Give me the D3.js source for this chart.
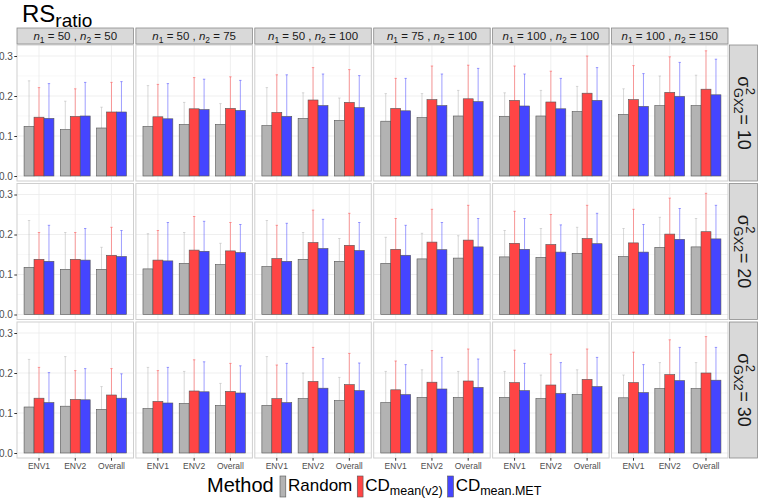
<!DOCTYPE html>
<meta charset="utf-8">
<script src="https://d3js.org/d3.v7.min.js"></script>
<style>
  body { margin: 0; background: #fff; }
  text { font-family: "Liberation Sans", Arial, sans-serif; }
</style>
<div id="my_dataviz"></div>
<script>

// facet labels
const n1 = [50, 50, 50, 75, 100, 100];
const n2 = [50, 75, 100, 100, 100, 150];
const gxVar = [10, 20, 30];
const envs = ["ENV1", "ENV2", "Overall"];
const methods = ["Random", "CDmean(v2)", "CDmean.MET"];
const yTicks = [0, 0.1, 0.2, 0.3];

// values: [row][column] -> [ENV1, ENV2, Overall]
const randomMean = [
  [[0.124,0.116,0.120],[0.124,0.129,0.129],[0.126,0.144,0.139],[0.137,0.146,0.150],[0.149,0.150,0.161],[0.154,0.176,0.176]],
  [[0.118,0.113,0.113],[0.114,0.128,0.125],[0.120,0.138,0.133],[0.128,0.139,0.141],[0.144,0.143,0.153],[0.145,0.168,0.169]],
  [[0.115,0.117,0.109],[0.111,0.124,0.119],[0.119,0.136,0.131],[0.126,0.139,0.139],[0.139,0.136,0.146],[0.138,0.161,0.161]]
];
const randomUpper = [
  [[0.238,0.187,0.172],[0.226,0.184,0.181],[0.221,0.208,0.195],[0.206,0.206,0.214],[0.208,0.214,0.224],[0.218,0.250,0.252]],
  [[0.235,0.205,0.168],[0.202,0.205,0.178],[0.235,0.205,0.190],[0.193,0.203,0.197],[0.210,0.215,0.218],[0.215,0.243,0.240]],
  [[0.234,0.241,0.166],[0.214,0.204,0.174],[0.241,0.200,0.189],[0.204,0.208,0.204],[0.204,0.195,0.208],[0.195,0.226,0.226]]
];
const cdv2Mean = [
  [[0.147,0.149,0.160],[0.148,0.168,0.169],[0.159,0.190,0.184],[0.169,0.191,0.193],[0.189,0.185,0.207],[0.191,0.209,0.217]],
  [[0.138,0.138,0.148],[0.136,0.161,0.159],[0.140,0.180,0.173],[0.163,0.181,0.186],[0.178,0.175,0.190],[0.179,0.201,0.207]],
  [[0.137,0.134,0.145],[0.129,0.155,0.154],[0.136,0.179,0.171],[0.158,0.177,0.180],[0.176,0.170,0.184],[0.176,0.196,0.200]]
];
const cdv2Upper = [
  [[0.221,0.218,0.234],[0.229,0.246,0.248],[0.253,0.271,0.266],[0.244,0.275,0.277],[0.275,0.262,0.300],[0.276,0.298,0.313]],
  [[0.205,0.205,0.218],[0.210,0.245,0.230],[0.223,0.261,0.253],[0.240,0.263,0.273],[0.258,0.250,0.273],[0.263,0.291,0.303]],
  [[0.214,0.206,0.211],[0.206,0.233,0.224],[0.220,0.264,0.249],[0.230,0.256,0.260],[0.257,0.247,0.260],[0.252,0.283,0.291]]
];
const cdmetMean = [
  [[0.144,0.150,0.160],[0.143,0.166,0.164],[0.149,0.176,0.171],[0.163,0.176,0.186],[0.175,0.168,0.189],[0.174,0.199,0.203]],
  [[0.133,0.136,0.145],[0.134,0.158,0.155],[0.133,0.165,0.160],[0.148,0.162,0.169],[0.163,0.156,0.177],[0.156,0.188,0.189]],
  [[0.126,0.133,0.137],[0.125,0.153,0.150],[0.126,0.162,0.156],[0.146,0.160,0.164],[0.156,0.149,0.166],[0.151,0.181,0.182]]
];
const cdmetUpper = [
  [[0.231,0.234,0.236],[0.231,0.242,0.239],[0.253,0.255,0.251],[0.244,0.255,0.269],[0.255,0.244,0.271],[0.256,0.284,0.292]],
  [[0.223,0.215,0.210],[0.230,0.233,0.225],[0.228,0.238,0.230],[0.223,0.230,0.240],[0.240,0.224,0.253],[0.225,0.265,0.273]],
  [[0.201,0.211,0.198],[0.214,0.228,0.218],[0.224,0.236,0.225],[0.221,0.239,0.235],[0.224,0.226,0.239],[0.221,0.264,0.264]]
];

const meanSets = [randomMean, cdv2Mean, cdmetMean];
const upperSets = [randomUpper, cdv2Upper, cdmetUpper];
const colors = ["#b3b3b3", "#ff4545", "#4545ff"];

// layout
const W = 760, H = 498;
const padLeft = 17, padTop = 45;
const pw = 116.5, ph = 136, colStep = 118.9, rowStep = 138.5;

const svg = d3.select("#my_dataviz")
  .append("svg")
    .attr("width", W)
    .attr("height", H);

svg.append("rect").attr("width", W).attr("height", H).attr("fill", "#fff");

// scales
const x = d3.scaleBand()
  .domain(envs)
  .range([0, pw])
  .paddingInner(0.176)
  .paddingOuter(0.195);
const xm = d3.scaleBand()
  .domain(methods)
  .range([0, x.bandwidth()]);
const y = d3.scaleLinear()
  .domain([-0.0125, 0.3275])
  .range([ph, 0]);

const minorTicks = [0.05, 0.15, 0.25];

for (let r = 0; r < 3; r++) {
  for (let c = 0; c < 6; c++) {
    const g = svg.append("g")
      .attr("transform", `translate(${padLeft + c * colStep},${padTop + r * rowStep})`);

    g.append("rect").attr("width", pw).attr("height", ph).attr("fill", "#fff");

    g.selectAll(".minor").data(minorTicks).enter().append("line")
      .attr("x1", 0).attr("x2", pw)
      .attr("y1", d => y(d)).attr("y2", d => y(d))
      .attr("stroke", "#f4f4f4").attr("stroke-width", 0.6);
    g.selectAll(".major").data(yTicks).enter().append("line")
      .attr("x1", 0).attr("x2", pw)
      .attr("y1", d => y(d)).attr("y2", d => y(d))
      .attr("stroke", "#ebebeb").attr("stroke-width", 0.8);
    g.selectAll(".vgrid").data(envs).enter().append("line")
      .attr("x1", d => x(d) + x.bandwidth() / 2).attr("x2", d => x(d) + x.bandwidth() / 2)
      .attr("y1", 0).attr("y2", ph)
      .attr("stroke", "#ebebeb").attr("stroke-width", 0.8);

    // build rows of data for this panel
    const data = [];
    envs.forEach((e, i) => {
      methods.forEach((m, k) => {
        data.push({env: e, method: m, k: k,
          mean: meanSets[k][r][c][i], upper: upperSets[k][r][c][i]});
      });
    });

    // error bars (upper only)
    const eb = g.selectAll(".eb").data(data).enter().append("g")
      .attr("stroke", d => colors[d.k])
      .attr("stroke-opacity", 0.65)
      .attr("stroke-width", 0.8);
    eb.append("line")
      .attr("x1", d => x(d.env) + xm(d.method) + xm.bandwidth() / 2)
      .attr("x2", d => x(d.env) + xm(d.method) + xm.bandwidth() / 2)
      .attr("y1", d => y(d.mean)).attr("y2", d => y(d.upper));
    eb.append("line")
      .attr("x1", d => x(d.env) + xm(d.method) + xm.bandwidth() / 2 - 1.2)
      .attr("x2", d => x(d.env) + xm(d.method) + xm.bandwidth() / 2 + 1.2)
      .attr("y1", d => y(d.upper)).attr("y2", d => y(d.upper));

    // bars
    g.selectAll(".bar").data(data).enter().append("rect")
      .attr("x", d => x(d.env) + xm(d.method))
      .attr("y", d => y(d.mean))
      .attr("width", xm.bandwidth())
      .attr("height", d => y(0) - y(d.mean))
      .attr("fill", d => colors[d.k])
      .attr("stroke", "#555")
      .attr("stroke-width", 0.6);

    g.append("rect").attr("width", pw).attr("height", ph)
      .attr("fill", "none").attr("stroke", "#cfcfcf").attr("stroke-width", 1);

    if (c === 0) {
      const ax = g.append("g")
        .call(d3.axisLeft(y).tickValues(yTicks).tickFormat(d3.format(".1f")).tickSize(2.7).tickPadding(1.5));
      ax.select(".domain").remove();
      ax.selectAll("line").attr("stroke", "#333");
      ax.selectAll("text").attr("fill", "#4d4d4d").style("font-size", "10px")
        .style("font-family", "'Liberation Sans', Arial, sans-serif");
    }
    if (r === 2) {
      const ax = g.append("g")
        .attr("transform", `translate(0,${ph})`)
        .call(d3.axisBottom(x).tickSize(2.7).tickPadding(2));
      ax.select(".domain").remove();
      ax.selectAll("line").attr("stroke", "#333");
      ax.selectAll("text").attr("fill", "#4d4d4d").style("font-size", "8.5px")
        .style("font-family", "'Liberation Sans', Arial, sans-serif");
    }
  }
}

// top strips
n1.forEach((a, c) => {
  const sx = padLeft + c * colStep;
  svg.append("rect")
    .attr("x", sx).attr("y", 28).attr("width", pw).attr("height", 16)
    .attr("fill", "#d9d9d9").attr("stroke", "#8a8a8a").attr("stroke-width", 0.8);
  const t = svg.append("text")
    .attr("x", sx + pw / 2).attr("y", 40)
    .attr("text-anchor", "middle")
    .attr("fill", "#1a1a1a")
    .style("font-size", "11.5px");
  t.append("tspan").style("font-style", "italic").text("n");
  t.append("tspan").attr("dy", 3).style("font-size", "8.5px").text("1");
  t.append("tspan").attr("dy", -3).text(` = ${a} , `);
  t.append("tspan").style("font-style", "italic").text("n");
  t.append("tspan").attr("dy", 3).style("font-size", "8.5px").text("2");
  t.append("tspan").attr("dy", -3).text(` = ${n2[c]}`);
});

// right strips
gxVar.forEach((v, r) => {
  const sy = padTop + r * rowStep;
  const sx = padLeft + 5 * colStep + pw + 1.5;
  svg.append("rect")
    .attr("x", sx).attr("y", sy).attr("width", 28).attr("height", ph)
    .attr("fill", "#d9d9d9").attr("stroke", "#8a8a8a").attr("stroke-width", 0.8);
  const g = svg.append("g")
    .attr("transform", `translate(${sx + 14},${sy + ph / 2}) rotate(90)`)
    .attr("fill", "#1a1a1a");
  const s = g.append("text").attr("x", 0).attr("y", 6).style("font-size", "18px").text("σ");
  const w1 = s.node().getComputedTextLength();
  g.append("text").attr("x", w1 + 0.5).attr("y", -2).style("font-size", "13px").text("2");
  const sub = g.append("text").attr("x", w1 + 0.5).attr("y", 10).style("font-size", "13px").text("GX2");
  const w2 = sub.node().getComputedTextLength();
  const rest = g.append("text").attr("x", w1 + w2 + 1).attr("y", 6).style("font-size", "18px").text(` = ${v}`);
  const total = w1 + w2 + 1 + rest.node().getComputedTextLength();
  g.selectAll("text").attr("transform", `translate(${-total / 2},0)`);
});

// title
const title = svg.append("text").attr("x", 22).attr("y", 22).attr("fill", "#000")
  .style("font-size", "24px");
title.append("tspan").text("RS");
title.append("tspan").attr("dy", 5).style("font-size", "19px").text("ratio");

// legend
const leg = svg.append("g");
leg.append("text").attr("x", 207).attr("y", 492).style("font-size", "20px").attr("fill", "#000").text("Method");
const legLabels = [["Random", ""], ["CD", "mean(v2)"], ["CD", "mean.MET"]];
let lx = 280;
legLabels.forEach((lab, k) => {
  leg.append("rect")
    .attr("x", lx).attr("y", 476).attr("width", 5.8).attr("height", 21)
    .attr("fill", colors[k]).attr("stroke", "#555").attr("stroke-width", 0.6);
  const t = leg.append("text").attr("x", lx + 8).attr("y", 491).attr("fill", "#000")
    .style("font-size", "17px");
  t.append("tspan").text(lab[0]);
  if (lab[1]) t.append("tspan").attr("dy", 4).style("font-size", "12.5px").text(lab[1]);
  lx += 8 + t.node().getComputedTextLength() + 5;
});

</script>
